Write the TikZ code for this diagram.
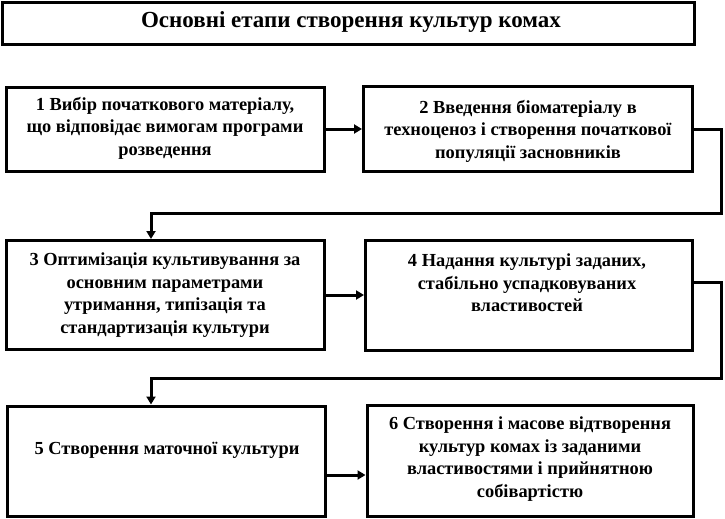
\documentclass[tikz,border=0pt]{standalone}
\usepackage{fontspec}
\setmainfont{Liberation Serif}
\usetikzlibrary{arrows.meta}
\begin{document}
\begin{tikzpicture}[x=1pt,y=-1pt,
  box/.style={draw=black, line width=3pt, rectangle, inner sep=0pt},
  txt/.style={align=center, font=\bfseries\fontsize{18.4}{22.5}\selectfont, inner sep=0pt},
  conn/.style={line width=3pt, -{Triangle[length=8pt,width=9pt]}}]
\useasboundingbox (0,0) rectangle (725,519);
% title
\node[box, minimum width=692pt, minimum height=42pt] (title) at (348,24) {};
\node[font=\bfseries\fontsize{23}{26}\selectfont, inner sep=0pt] (titletxt) at (351,22) {Основні етапи створення культур комах};
% boxes
\node[box, minimum width=318pt, minimum height=84pt] (b1) at (165,129) {};
\node[box, minimum width=329pt, minimum height=85pt] (b2) at (528,129) {};
\node[box, minimum width=318pt, minimum height=109pt] (b3) at (165,295) {};
\node[box, minimum width=327pt, minimum height=110pt] (b4) at (529,295) {};
\node[box, minimum width=318pt, minimum height=110pt] (b5) at (166,461) {};
\node[box, minimum width=326pt, minimum height=111pt] (b6) at (530,461) {};
% texts
\node[txt] (t1) at (165,128) {1 Вибір початкового матеріалу,\\ що відповідає вимогам програми\\ розведення};
\node[txt] (t2) at (528,131) {2 Введення біоматеріалу в\\ техноценоз і створення початкової\\ популяції засновників};
\node[txt] (t3) at (165,295) {3 Оптимізація культивування за\\ основним параметрами\\ утримання, типізація та\\ стандартизація культури};
\node[txt] (t4) at (527,283) {4 Надання культурі заданих,\\ стабільно успадковуваних\\ властивостей};
\node[txt] (t5) at (167,450) {5 Створення маточної культури};
\node[txt] (t6) at (530,459) {6 Створення і масове відтворення\\ культур комах із заданими\\ властивостями і прийнятною\\ собівартістю};
% connector waypoints
\coordinate (c2a) at (721,129);
\coordinate (c2b) at (721,213);
\coordinate (c2c) at (151,213);
\coordinate (c4a) at (721,282);
\coordinate (c4b) at (721,378);
\coordinate (c4c) at (151,378);
% connectors
\draw[conn] (b1.east) -- (b2.west);
\draw[conn] (b2.east |- c2a) -- (c2a) -- (c2b) -- (c2c) -- (c2c |- b3.north);
\draw[conn] (b3.east) -- (b4.west);
\draw[conn] (b4.east |- c4a) -- (c4a) -- (c4b) -- (c4c) -- (c4c |- b5.north);
\draw[conn] (b5.east |- 0,475) -- (b6.west |- 0,475);
\end{tikzpicture}
\end{document}
